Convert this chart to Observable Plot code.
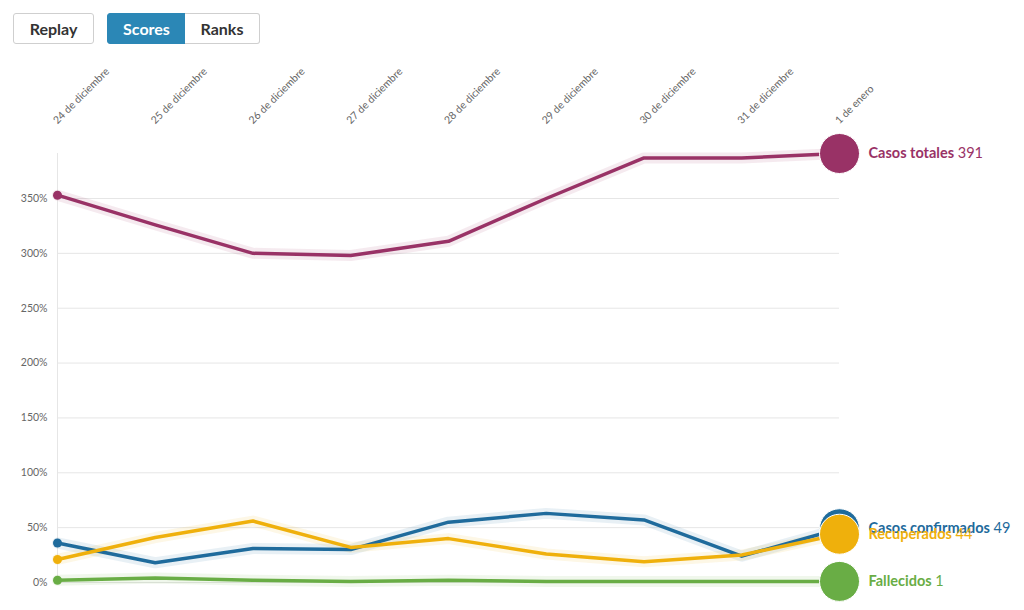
<!DOCTYPE html>
<html>
<head>
<meta charset="utf-8">
<script src="https://cdn.jsdelivr.net/npm/d3@7"></script>
<script src="https://cdn.jsdelivr.net/npm/@observablehq/plot@0.6"></script>
<style>
  html, body { margin: 0; padding: 0; background: #fff; }
  body { width: 1024px; height: 610px; overflow: hidden; font-family: "Source Sans Pro", Lato, "Open Sans", sans-serif; }
  #controls { height: 50px; position: relative; }
  .btn { position: absolute; top: 13px; height: 31px; box-sizing: border-box; border: 1px solid #cfcfcf; background: #fff;
         font: bold 16px Lato, sans-serif; color: #333; display: flex; align-items: center; justify-content: center; }
  #replay { left: 13px; width: 81px; border-radius: 3px; }
  #scores { left: 107px; width: 79px; background: #2b87b6; border-color: #2b87b6; color: #fff; border-radius: 3px 0 0 3px; }
  #ranks { left: 185px; width: 75px; border-radius: 0 3px 3px 0; border-left: none; }
  #chart svg { display: block; }
</style>
</head>
<body>
<div id="controls">
  <div class="btn" id="replay">Replay</div>
  <div class="btn" id="scores">Scores</div>
  <div class="btn" id="ranks">Ranks</div>
</div>
<div id="chart"></div>
<script>
const dates = ["24 de diciembre", "25 de diciembre", "26 de diciembre", "27 de diciembre", "28 de diciembre",
               "29 de diciembre", "30 de diciembre", "31 de diciembre", "1 de enero"];
const seriesNames = ["Casos confirmados", "Recuperados", "Fallecidos", "Casos totales"];
const seriesColors = ["#1f6b9c", "#efb00c", "#69ad45", "#993266"];
const casosTotales = [353, 326, 300, 298, 311, 350, 387, 387, 391];
const casosConfirmados = [36, 18, 31, 30, 55, 63, 57, 24, 49];
const recuperados = [21, 41, 56, 32, 40, 26, 19, 25, 44];
const fallecidos = [2, 4, 2, 1, 2, 1, 1, 1, 1];
const yTicks = [0, 50, 100, 150, 200, 250, 300, 350];

const seriesValues = [casosConfirmados, recuperados, fallecidos, casosTotales];
const rows = [];
seriesNames.forEach((name, i) => {
  seriesValues[i].forEach((v, j) => rows.push({name, date: dates[j], value: v}));
});
const last = seriesNames.map((name, i) => ({name, date: dates[dates.length - 1], value: seriesValues[i][dates.length - 1]}));
const first = seriesNames.map((name, i) => ({name, date: dates[0], value: seriesValues[i][0]}));

const plot = Plot.plot({
  width: 1024,
  height: 560,
  marginLeft: 57,
  marginRight: 185,
  marginTop: 103,
  marginBottom: 28,
  style: {fontFamily: "'Source Sans Pro', Lato, sans-serif", background: "#fff"},
  x: {type: "point", domain: dates, padding: 0, round: false, axis: null},
  y: {domain: [0, 391], ticks: yTicks, axis: null},
  color: {domain: seriesNames, range: seriesColors},
  marks: [
    Plot.gridY(yTicks, {stroke: "#e6e6e6", strokeOpacity: 1}),
    Plot.ruleX([dates[0]], {y1: 0, y2: 391, stroke: "#e6e6e6", strokeOpacity: 1}),
    Plot.axisY(yTicks, {tickSize: 0, tickPadding: 10, tickFormat: d => d + "%", fill: "#666", fontSize: 10.5, label: null}),
    Plot.text(dates, {x: d => d, frameAnchor: "top", dy: -29, rotate: -45, textAnchor: "start", lineAnchor: "bottom", fill: "#666", fontSize: 10.5}),
    Plot.line(rows, {x: "date", y: "value", z: "name", stroke: "name", strokeWidth: 11, strokeOpacity: 0.1, curve: "linear"}),
    Plot.line(rows, {x: "date", y: "value", z: "name", stroke: "name", strokeWidth: 3.5, curve: "linear"}),
    Plot.dot(first, {x: "date", y: "value", fill: "name", r: 4.5}),
    Plot.dot(last, {x: "date", y: "value", fill: "name", r: 20, stroke: "#fff", strokeWidth: 1}),
    Plot.text(last, {x: "date", y: "value", text: "name", dx: 29, textAnchor: "start", fill: "name", fontSize: 14.5, fontWeight: "bold"})
  ]
});
document.getElementById("chart").appendChild(plot);

// add the value next to each end label in normal weight
d3.select(plot).selectAll("text").each(function () {
  const t = this.textContent;
  const idx = seriesNames.indexOf(t);
  if (idx >= 0 && this.childNodes.length <= 1) {
    d3.select(this).append("tspan").attr("font-weight", "normal").text(" " + last[idx].value);
  }
});
</script>
</body>
</html>
